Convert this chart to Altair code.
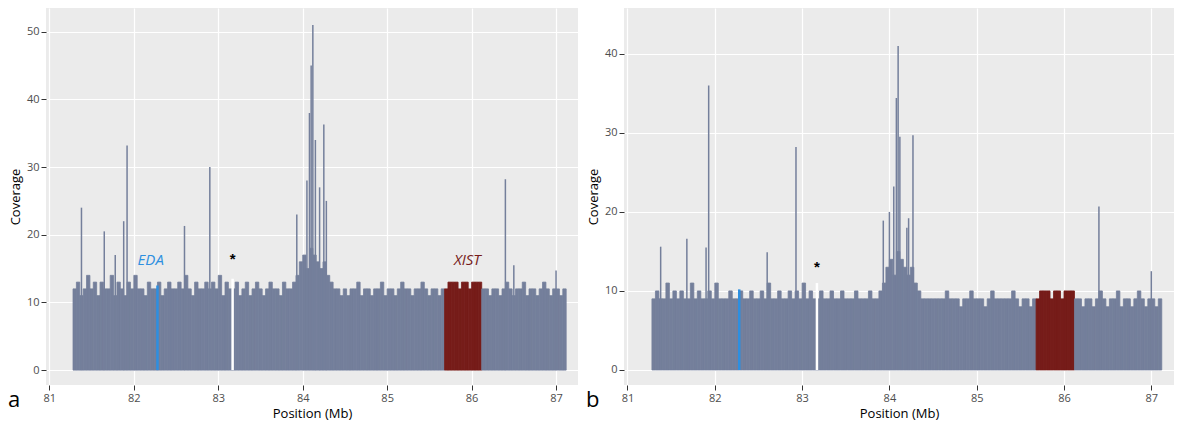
import altair as alt
import pandas as pd

bin_start = 81.28
bin_step = 0.04

cov_a = [12,13,11,12,14,12,13,11,13,12,
         12,14,11,13,12,11,13,12,14,12,
         12,11,13,12,12,13,11,12,13,12,
         12,13,12,14,12,11,13,12,12,13,
         12,13,12,14,11,13,12,12,13,11,
         12,13,11,12,13,12,11,12,13,12,
         12,11,13,12,12,13,14,16,17,15,
         18,17,16,15,16,14,13,12,12,11,
         12,11,12,12,13,11,12,12,11,12,
         12,13,11,12,12,11,12,13,12,12,
         11,12,12,13,12,11,12,12,11,12,
         12,13,13,13,12,13,13,12,13,13,
         13,12,12,11,12,12,11,12,13,12,
         11,12,12,13,11,12,12,11,12,13,
         12,11,12,12,11,12]

cov_b = [9,10,9,9,11,9,10,9,10,9,
         9,11,9,10,9,9,10,9,11,9,
         9,9,10,9,9,10,9,9,10,9,
         9,10,9,11,9,9,10,9,9,10,
         9,10,9,11,9,10,9,9,10,9,
         9,10,9,9,10,9,9,9,10,9,
         9,9,10,9,9,10,11,13,14,12,
         15,14,13,12,13,11,10,9,9,9,
         9,9,9,9,10,9,9,9,8,9,
         9,10,9,9,9,8,9,10,9,9,
         9,9,9,10,9,8,9,9,8,9,
         9,10,10,10,9,10,10,9,10,10,
         10,9,9,8,9,9,8,9,10,9,
         8,9,9,10,8,9,9,8,9,10,
         9,8,9,9,8,9]

spike_pos_a = [81.38,81.65,81.78,81.88,81.92,82.6,82.9,83.93,84.05,84.08,84.1,84.12,84.15,84.2,84.25,84.28,86.4,86.5,87.0]
spike_val_a = [24,20.5,17,22,33.2,21.3,30,23,28,38,45,51,34,27,36.3,25,28.2,15.5,14.7]
spike_pos_b = [81.38,81.68,81.9,81.93,82.6,82.93,83.93,84.0,84.05,84.08,84.1,84.12,84.2,84.22,84.27,86.4,87.0]
spike_val_b = [15.6,16.6,15.5,36,14.9,28.2,18.9,20,23.2,34.4,41,29.5,18,19.2,29.7,20.7,12.5]

bar_col = "#747F9B"
xist_col = "#761C19"
eda_col = "#2D8FE0"


def panel(cov, spos, sval, ymax, ymin, yticks, eda_h, star_y, letter, width, show_labels):
    starts = [round(bin_start + i * bin_step, 2) for i in range(len(cov))]
    df = pd.DataFrame({"x": starts, "x2": [s + bin_step for s in starts], "y": cov})
    df["g"] = ["xist" if 85.68 <= s < 86.12 else "base" for s in starts]
    sp = pd.DataFrame({"x": spos, "y": sval})
    xs = alt.Scale(domain=[80.96, 87.26], nice=False, zero=False)
    ys = alt.Scale(domain=[ymin, ymax], nice=False, zero=False)
    xa = alt.X("x:Q", scale=xs, title="Position (Mb)",
               axis=alt.Axis(values=list(range(81, 88)), format="d"))
    ya = alt.Y("y:Q", scale=ys, title="Coverage", axis=alt.Axis(values=yticks))
    colr = alt.Color("g:N", scale=alt.Scale(domain=["base", "xist"], range=[bar_col, xist_col]), legend=None)
    bars = alt.Chart(df).mark_bar(binSpacing=0, strokeWidth=0.8).encode(
        x=xa, x2="x2:Q", y=ya, y2=alt.datum(0), color=colr, stroke=colr)
    spikes = alt.Chart(sp).mark_rule(color=bar_col, strokeWidth=1.5).encode(x=xa, y=ya, y2=alt.datum(0))
    marks = pd.DataFrame({"x": [82.28, 83.17], "y": [eda_h, 13.5 if letter == "a" else 11],
                          "c": [eda_col, "white"]})
    mk = alt.Chart(marks).mark_rule(strokeWidth=2.5).encode(
        x=xa, y=ya, y2=alt.datum(0), color=alt.Color("c:N", scale=None))
    layers = [bars, spikes, mk]
    star = alt.Chart(pd.DataFrame({"x": [83.17], "y": [star_y], "t": ["*"]})).mark_text(
        fontSize=15, fontWeight="bold", color="black", dy=4).encode(x=xa, y=ya, text="t:N")
    layers.append(star)
    if show_labels:
        lab = pd.DataFrame({"x": [82.2, 85.95], "y": [16.3, 16.3], "t": ["EDA", "XIST"],
                            "c": [eda_col, xist_col]})
        layers.append(alt.Chart(lab).mark_text(fontSize=15, fontStyle="italic", font="Open Sans").encode(
            x=xa, y=ya, text="t:N", color=alt.Color("c:N", scale=None)))
    layers.append(alt.Chart(pd.DataFrame({"t": [letter]})).mark_text(
        fontSize=22, align="left", color="black", font="Open Sans").encode(
        x=alt.value(-38), y=alt.value(392), text="t:N"))
    return alt.layer(*layers).properties(width=width, height=377)


pa = panel(cov_a, spike_pos_a, spike_val_a, 53.5, -2.2, [0, 10, 20, 30, 40, 50], 12.5, 17, "a", 532, True)
pb = panel(cov_b, spike_pos_b, spike_val_b, 45.8, -1.9, [0, 10, 20, 30, 40], 10.2, 13.5, "b", 550, False)

chart = alt.hconcat(pa, pb, spacing=8).properties(
    background="white", padding=0
).configure_view(
    fill="#EBEBEB", stroke=None
).configure_axis(
    grid=True, gridColor="white", gridWidth=1.2, domain=False,
    tickColor="#333333", labelColor="#4D4D4D", labelFontSize=11,
    titleFontSize=13, titleFontWeight="normal", titleColor="black",
    labelFont="Open Sans", titleFont="Open Sans"
)

chart.save("out.html", embed_options={"renderer": "svg", "actions": False})
